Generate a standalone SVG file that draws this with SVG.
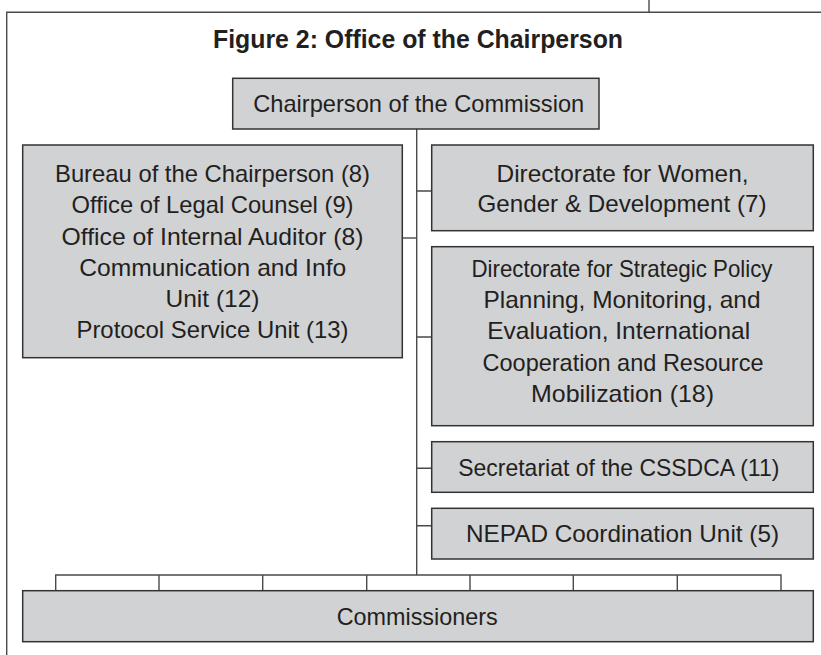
<svg xmlns="http://www.w3.org/2000/svg" width="821" height="655" viewBox="0 0 821 655">
<style>
.box{fill:#d1d2d4;stroke:#333333;stroke-width:1.5}
.ln{stroke:#4a4a4a;stroke-width:1.4;fill:none}
.t{font-family:"Liberation Sans","Open Sans",sans-serif;font-size:24px;fill:#231f20;text-anchor:middle}
.title{font-family:"Liberation Sans","Open Sans",sans-serif;font-size:25px;font-weight:bold;fill:#231f20;text-anchor:middle}
</style>
<rect width="821" height="655" fill="#ffffff"/>
<g id="frame">
<path class="ln" d="M6.7,655 V12.3 H821 M649,0 V12.3"/>
</g>
<text class="title" x="418" y="48" textLength="410" lengthAdjust="spacingAndGlyphs">Figure 2: Office of the Chairperson</text>
<g id="connectors">
<path class="ln" d="M416.7,129 V575"/>
<path class="ln" d="M402.3,238 H416.7"/>
<path class="ln" d="M416.7,191 H431.7 M416.7,337 H431.7 M416.7,468.3 H431.7 M416.7,525.7 H431.7"/>
<path class="ln" d="M55.7,590.7 V575 H781 V590.7 M159,575 V590.7 M262.7,575 V590.7 M366.7,575 V590.7 M470,575 V590.7 M573.3,575 V590.7 M677.3,575 V590.7"/>
</g>
<g id="chairperson">
<rect class="box" x="232.7" y="78.3" width="366.3" height="50.7"/>
<text class="t" x="418.7" y="112" textLength="331" lengthAdjust="spacingAndGlyphs">Chairperson of the Commission</text>
</g>
<g id="bureau">
<rect class="box" x="22.7" y="145" width="379.6" height="212.7"/>
<text class="t" x="212.5" y="182" textLength="315" lengthAdjust="spacingAndGlyphs">Bureau of the Chairperson (8)</text>
<text class="t" x="212.5" y="213" textLength="282" lengthAdjust="spacingAndGlyphs">Office of Legal Counsel (9)</text>
<text class="t" x="212.5" y="245" textLength="302" lengthAdjust="spacingAndGlyphs">Office of Internal Auditor (8)</text>
<text class="t" x="212.7" y="276" textLength="267" lengthAdjust="spacingAndGlyphs">Communication and Info</text>
<text class="t" x="212.5" y="307" textLength="94" lengthAdjust="spacingAndGlyphs">Unit (12)</text>
<text class="t" x="212.5" y="338" textLength="272" lengthAdjust="spacingAndGlyphs">Protocol Service Unit (13)</text>
</g>
<g id="women">
<rect class="box" x="431.7" y="145" width="381.6" height="85.7"/>
<text class="t" x="622.5" y="182" textLength="252" lengthAdjust="spacingAndGlyphs">Directorate for Women,</text>
<text class="t" x="622" y="212" textLength="289" lengthAdjust="spacingAndGlyphs">Gender &amp; Development (7)</text>
</g>
<g id="strategic">
<rect class="box" x="431.7" y="246.7" width="381.6" height="179"/>
<text class="t" x="622" y="277.3" textLength="301" lengthAdjust="spacingAndGlyphs">Directorate for Strategic Policy</text>
<text class="t" x="622" y="308.3" textLength="277" lengthAdjust="spacingAndGlyphs">Planning, Monitoring, and</text>
<text class="t" x="618.7" y="339.3" textLength="263" lengthAdjust="spacingAndGlyphs">Evaluation, International</text>
<text class="t" x="623" y="370.7" textLength="281" lengthAdjust="spacingAndGlyphs">Cooperation and Resource</text>
<text class="t" x="622.5" y="401.7" textLength="183" lengthAdjust="spacingAndGlyphs">Mobilization (18)</text>
</g>
<g id="cssdca">
<rect class="box" x="431.7" y="441.7" width="381.6" height="50.6"/>
<text class="t" x="618.8" y="476" textLength="321" lengthAdjust="spacingAndGlyphs">Secretariat of the CSSDCA (11)</text>
</g>
<g id="nepad">
<rect class="box" x="431.7" y="508.3" width="381.6" height="50.7"/>
<text class="t" x="622.5" y="542" textLength="313" lengthAdjust="spacingAndGlyphs">NEPAD Coordination Unit (5)</text>
</g>
<g id="commissioners">
<rect class="box" x="22.7" y="590.7" width="790.6" height="51"/>
<text class="t" x="417.2" y="624.5" textLength="161" lengthAdjust="spacingAndGlyphs">Commissioners</text>
</g>
</svg>
